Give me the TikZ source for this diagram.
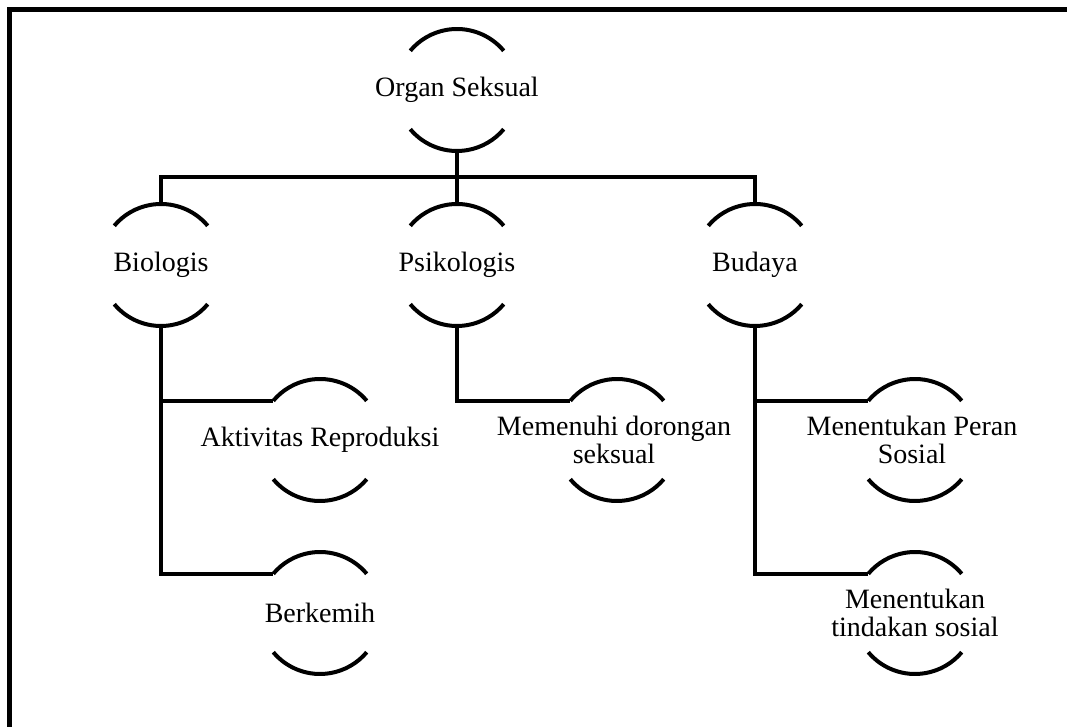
\documentclass[tikz,border=0pt]{standalone}
\usepackage{fontspec}
\setmainfont{Liberation Serif}
\newfontfamily\labelfont{Liberation Serif}
\begin{document}
\begin{tikzpicture}[x=1pt,y=1pt,
  ring/.style={circle, minimum size=122pt, inner sep=0pt, outer sep=0pt, draw=none},
  label text/.style={inner sep=0pt, align=center, font=\labelfont\fontsize{28}{28.5}\selectfont},
  link/.style={line width=4pt, line join=miter},
  arcline/.style={line width=4pt}]
\useasboundingbox (0,0) rectangle (1067,727);

% frame (only top and left edges fall inside the page)
\draw[line width=4.5pt] (1090,717.5) -- (9.5,717.5) -- (9.5,-20);

% node rings
\node[ring] (org) at (457,637) {};
\node[ring] (bio) at (161,462) {};
\node[ring] (psi) at (457,462) {};
\node[ring] (bud) at (755,462) {};
\node[ring] (akt) at (320,287) {};
\node[ring] (mem) at (617,287) {};
\node[ring] (per) at (915,287) {};
\node[ring] (ber) at (320,114) {};
\node[ring] (tin) at (915,114) {};

% labels
\node[label text] (org-t) at (org) {Organ Seksual};
\node[label text] (bio-t) at (bio) {Biologis};
\node[label text] (psi-t) at (psi) {Psikologis};
\node[label text] (bud-t) at (bud) {Budaya};
\node[label text] (akt-t) at (akt) {Aktivitas Reproduksi};
\node[label text] (ber-t) at (ber) {Berkemih};
\node[label text] (mem-t) at ([xshift=-3pt]mem.center) {Memenuhi dorongan\\seksual};
\node[label text] (per-t) at ([xshift=-3pt]per.center) {Menentukan Peran\\Sosial};
\node[label text] (tin-t) at (tin) {Menentukan\\tindakan sosial};

% open arcs above and below each label
\foreach \n in {org,bio,psi,bud,akt,mem,per,ber,tin}
  \draw[arcline] (\n.40) arc[start angle=40, end angle=140, radius=61]
                 (\n.220) arc[start angle=220, end angle=320, radius=61];

% connectors
\coordinate (bus) at (457,550);
\draw[link] (bio.north) |- (bus) -| (bud.north);
\draw[link] (org.south) -- (psi.north);
\draw[link] (bio.south) |- (ber.140);
\draw[link] (bio.south |- akt.140) -- (akt.140);
\draw[link] (psi.south) |- (mem.140);
\draw[link] (bud.south) |- (tin.140);
\draw[link] (bud.south |- per.140) -- (per.140);
\end{tikzpicture}
\end{document}
